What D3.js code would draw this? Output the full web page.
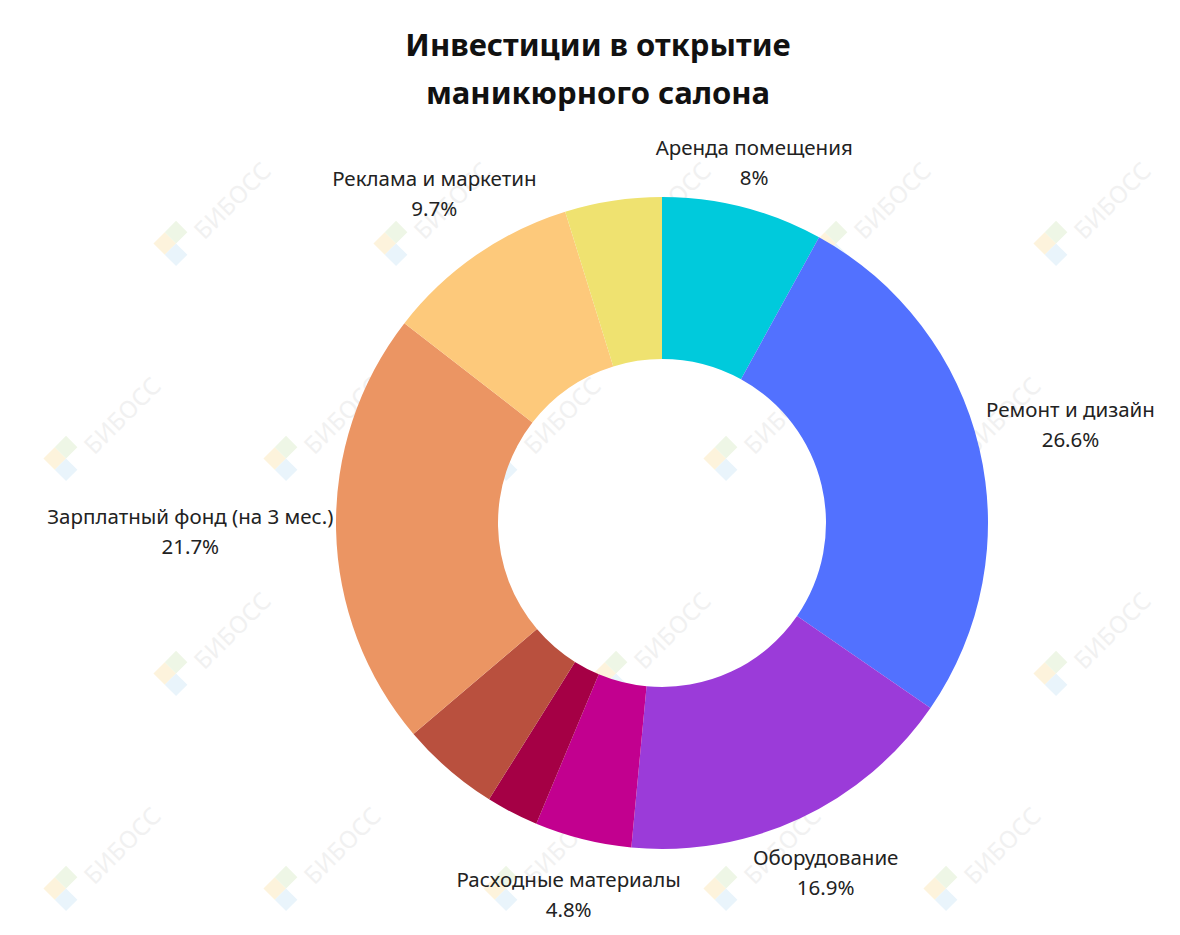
<!DOCTYPE html>
<html>
<head>
<meta charset="utf-8">
<script src="https://cdn.jsdelivr.net/npm/d3@7"></script>
<style>
  body { margin: 0; background: #fff; }
  svg { display: block; font-family: "Noto Sans", "Open Sans", sans-serif; }
</style>
</head>
<body>
<svg id="chart" width="1180" height="935"></svg>
<script>
const categories = [
  "Аренда помещения", "Ремонт и дизайн", "Оборудование", "Расходные материалы",
  "Прочее 1", "Прочее 2", "Зарплатный фонд (на 3 мес.)", "Реклама и маркетин", "Прочее 3"
];
const values = [8, 26.6, 16.9, 4.8, 2.6, 4.9, 21.7, 9.7, 4.8];
const showLabel = [true, true, true, true, false, false, true, true, false];
const colors = ["#00cadc", "#5271ff", "#9b3bd9", "#c2008f", "#a50045", "#b9503e", "#eb9563", "#fdc97b", "#efe270"];

const svg = d3.select("#chart");
const W = 1180, H = 935;
const cx = 662, cy = 523, R = 326, r0 = 164;

/* ===== Watermark ===== */
const wm = svg.append("g");
[235, 450, 665, 880].forEach((gy, row) => {
  const off = row % 2 ? 110 : 0;
  for (let gx = -120 + off; gx < W + 100; gx += 220) {
    const px = gx + 110;
    if (px - 45 < 0 || px + 85 > W) continue;
    const g = wm.append("g").attr("transform", `translate(${px},${gy}) rotate(-45)`);
    g.append("rect").attr("x", -46).attr("y", -34).attr("width", 16).attr("height", 16).attr("fill", "#fdf3dc");
    g.append("rect").attr("x", -30).attr("y", -34).attr("width", 16).attr("height", 16).attr("fill", "#eef6e6");
    g.append("rect").attr("x", -46).attr("y", -18).attr("width", 16).attr("height", 16).attr("fill", "#e9f4fb");
    g.append("text").attr("x", -8).attr("y", 0).attr("font-size", 24).attr("fill", "#f1f1f1")
      .text("БИБОСС");
  }
});

/* ===== Title ===== */
const title = svg.append("text")
  .attr("text-anchor", "middle")
  .attr("font-size", 31).attr("font-weight", 700).attr("fill", "#111");
title.append("tspan").attr("x", 598).attr("y", 56).text("Инвестиции в открытие");
title.append("tspan").attr("x", 598).attr("y", 104).text("маникюрного салона");

/* ===== Donut ===== */
const pie = d3.pie().sort(null).value(d => d);
const arcs = pie(values);
const arc = d3.arc().innerRadius(r0).outerRadius(R);

const g = svg.append("g").attr("transform", `translate(${cx},${cy})`);
g.selectAll("path")
  .data(arcs)
  .join("path")
  .attr("d", arc)
  .attr("fill", (d, i) => colors[i]);

/* ===== Labels ===== */
arcs.forEach((d, i) => {
  if (!showLabel[i]) return;
  const a = (d.startAngle + d.endAngle) / 2;
  const t = g.append("text")
    .attr("text-anchor", "middle")
    .attr("font-size", 20.5).attr("fill", "#222");
  const l1 = t.append("tspan").attr("x", 0).attr("y", 0).text(categories[i]);
  t.append("tspan").attr("x", 0).attr("y", 30).text(values[i] + "%");
  const hw = l1.node().getComputedTextLength() / 2;
  const rr = 350 + 0.85 * hw * Math.abs(Math.sin(a)) + 12 * Math.max(0, -Math.cos(a));
  const x = rr * Math.sin(a);
  const y = -rr * Math.cos(a);
  t.attr("transform", `translate(${x},${y - 9})`);
});
</script>
</body>
</html>
